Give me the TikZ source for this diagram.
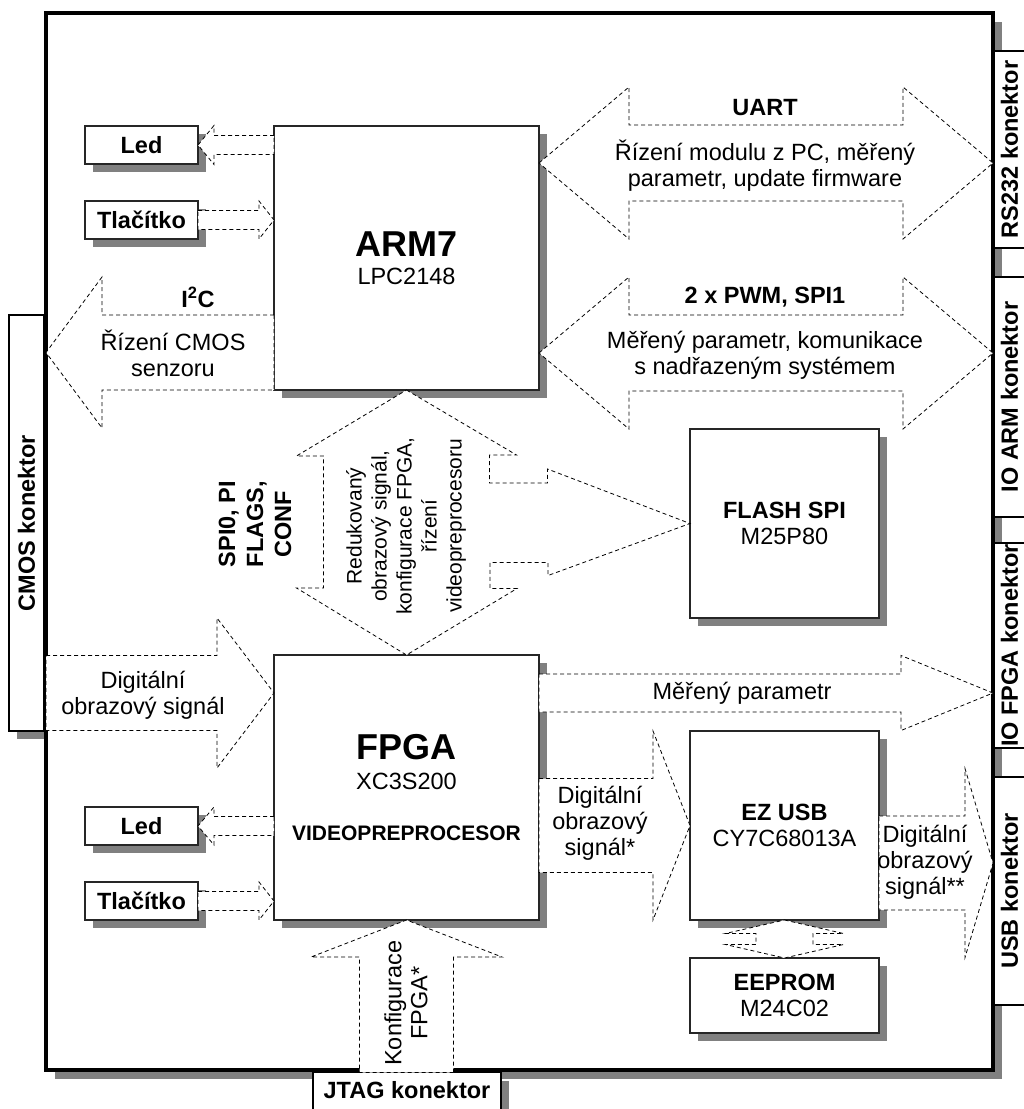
\documentclass[tikz,border=0pt]{standalone}
\usepackage{fontspec}
\setmainfont{Liberation Sans}
\usetikzlibrary{calc}

\newcommand\labelstyle{\fontsize{23.5}{26}\selectfont}
\newcommand\namestyle{\fontsize{23.5}{28}\selectfont\bfseries}
\newcommand\titlestyle{\fontsize{36}{40}\selectfont\bfseries}
\newcommand\videostyle{\fontsize{21}{25}\selectfont\bfseries}
\newcommand\busstyle{\fontsize{21}{25}\selectfont}
\newcommand\shadowoffset{8}

% name, x, y, width, height, text
\newcommand\chipbox[6]{
  \fill[dropgray] (#2 - #4 / 2 + \shadowoffset, #3 - #5 / 2 + \shadowoffset) rectangle ++(#4, #5) ;
  \node[chip, minimum width=#4pt, minimum height=#5pt] (#1) at (#2, #3) {#6} ;
}
% tail, tip, shaft half width, head half width, head length
\newcommand\harrow[5]{
  \draw[pipe] let \p1 = #1, \p2 = #2, \n1 = {ifthenelse(\x2 > \x1, #5, -#5)} in
    (\x1, \y2 + #3pt) -- (\x2 - \n1, \y2 + #3pt) -- (\x2 - \n1, \y2 + #4pt) -- (\p2)
    -- (\x2 - \n1, \y2 - #4pt) -- (\x2 - \n1, \y2 - #3pt) -- (\x1, \y2 - #3pt) -- cycle ;
}
\newcommand\varrow[5]{
  \draw[pipe] let \p1 = #1, \p2 = #2, \n1 = {ifthenelse(\y2 > \y1, #5, -#5)} in
    (\x2 + #3pt, \y1) -- (\x2 + #3pt, \y2 - \n1) -- (\x2 + #4pt, \y2 - \n1) -- (\p2)
    -- (\x2 - #4pt, \y2 - \n1) -- (\x2 - #3pt, \y2 - \n1) -- (\x2 - #3pt, \y1) -- cycle ;
}
\newcommand\hdarrow[5]{
  \draw[pipe] let \p1 = #1, \p2 = #2, \n1 = {ifthenelse(\x2 > \x1, #5, -#5)} in
    (\p1) -- (\x1 + \n1, \y1 + #4pt) -- (\x1 + \n1, \y1 + #3pt) -- (\x2 - \n1, \y1 + #3pt)
    -- (\x2 - \n1, \y1 + #4pt) -- (\p2) -- (\x2 - \n1, \y1 - #4pt) -- (\x2 - \n1, \y1 - #3pt)
    -- (\x1 + \n1, \y1 - #3pt) -- (\x1 + \n1, \y1 - #4pt) -- cycle ;
}
\newcommand\vdarrow[5]{
  \draw[pipe] let \p1 = #1, \p2 = #2, \n1 = {ifthenelse(\y2 > \y1, #5, -#5)} in
    (\p1) -- (\x1 + #4pt, \y1 + \n1) -- (\x1 + #3pt, \y1 + \n1) -- (\x1 + #3pt, \y2 - \n1)
    -- (\x1 + #4pt, \y2 - \n1) -- (\p2) -- (\x1 - #4pt, \y2 - \n1) -- (\x1 - #3pt, \y2 - \n1)
    -- (\x1 - #3pt, \y1 + \n1) -- (\x1 - #4pt, \y1 + \n1) -- cycle ;
}

\tikzset{
  dropgray/.style={fill=black!50},
  board/.style={draw=black, line width=3.5pt, fill=white, inner sep=0pt, outer sep=0pt},
  plug/.style={draw=black, line width=1.2pt, fill=white, inner sep=0pt, outer sep=0pt, font=\namestyle},
  chip/.style={draw=black!85, line width=1.2pt, fill=white, inner sep=0pt, outer sep=0pt, align=center,
    font=\labelstyle},
  pipe/.style={draw=black, line width=0.8pt, dash pattern=on 4pt off 3pt, fill=white},
  tag/.style={align=center, inner sep=0pt, font=\labelstyle}
}

\begin{document}
\begin{tikzpicture}[x=1pt, y=-1pt]
    \useasboundingbox (0, 0) rectangle (1024, 1109) ;
    \fill[white] (0, 0) rectangle (1024, 1109) ;
    \clip (0, 0) rectangle (1024, 1109) ;
    % konektory
    \fill[dropgray] (9 + 8, 315 + 8) rectangle (44 + 8, 731 + 8) ;
    \node[plug, rotate=90, minimum width=416pt, minimum height=35pt] (cmos) at (26.5, 523) {CMOS konektor} ;
    \fill[dropgray] (46 + 9, 13 + 9) rectangle (993 + 9, 1070 + 9) ;
    \node[board, minimum width=947pt, minimum height=1057pt] (board) at (519.5, 541.5) {} ;
    \node[plug, rotate=90, minimum width=197pt, minimum height=31pt] (rs232) at (1009.5, 149.5) {RS232 konektor} ;
    \node[plug, rotate=90, minimum width=240pt, minimum height=31pt] (ioarm) at (1009.5, 397) {IO ARM konektor} ;
    \node[plug, rotate=90, minimum width=205pt, minimum height=31pt] (iofpga) at (1009.5, 645.5) {IO FPGA konektor} ;
    \node[plug, rotate=90, minimum width=228pt, minimum height=31pt] (usb) at (1009.5, 891) {USB konektor} ;
    \fill[dropgray] (313 + 8, 1072.5 + 8) rectangle (501 + 8, 1140) ;
    \node[plug, anchor=north, minimum width=188pt, text height=26pt, text depth=40pt] (jtag) at (407, 1072.5) {JTAG konektor} ;
    % bloky
    \chipbox{arm}{406.5}{258}{265}{264}{\titlestyle ARM7\\[2pt]\labelstyle LPC2148}
    \chipbox{fpga}{406.5}{787.5}{265}{265}{\titlestyle FPGA\\[4.5pt]\labelstyle XC3S200\\[25pt]\videostyle VIDEOPREPROCESOR}
    \chipbox{flash}{784.5}{523.5}{189}{189}{\namestyle FLASH SPI\\\labelstyle M25P80}
    \chipbox{ezusb}{784.5}{825.5}{189}{189}{\namestyle EZ USB\\\labelstyle CY7C68013A}
    \chipbox{eeprom}{784.5}{995.5}{189}{75}{\namestyle EEPROM\\\labelstyle M24C02}
    \chipbox{led1}{141.5}{145}{113}{38}{\namestyle Led}
    \chipbox{tlac1}{141.5}{220}{113}{38}{\namestyle Tlačítko}
    \chipbox{led2}{141.5}{826}{113}{38}{\namestyle Led}
    \chipbox{tlac2}{141.5}{901}{113}{38}{\namestyle Tlačítko}
    % sbernice
    \coordinate (uart) at ($(arm.north east) + (0, 37)$) ;
    \coordinate (pwm) at ($(arm.south east) + (0, -37)$) ;
    \coordinate (i2c) at ($(arm.south west) + (0, -37.5)$) ;
    \coordinate (pix) at ($(fpga.north west) + (0, 38)$) ;
    \coordinate (usbout) at ($(ezusb.east) + (0, 37.5)$) ;
    \harrow{(arm.west |- led1.east)}{(led1.east)}{9.5}{19.5}{16}
    \harrow{(tlac1.east)}{(arm.west |- tlac1.east)}{9.5}{19}{15}
    \harrow{(i2c)}{(board.west |- i2c)}{37.5}{75.5}{56}
    \hdarrow{(uart)}{(board.east |- uart)}{38}{76}{90}
    \hdarrow{(pwm)}{(board.east |- pwm)}{38}{76}{90}
    \draw[pipe] (arm.south) -- ++(110, 65) -- ++(-27, 0) -- ++(0, 28) -- ++(58, 0) -- ++(0, -14) -- (flash.west)
      -- ++(-142, 52) -- ++(0, -13) -- ++(-58, 0) -- ++(0, 26) -- ++(27, 0) -- (fpga.north)
      -- ++(-110, -67) -- ++(27, 0) -- ++(0, -132) -- ++(-27, 0) -- cycle ;
    \harrow{(board.west |- pix)}{(pix)}{37.5}{75}{57}
    \harrow{(fpga.east |- pix)}{(board.east |- pix)}{19}{37.5}{92}
    \harrow{(fpga.east |- ezusb.west)}{(ezusb.west)}{47}{94.5}{37}
    \harrow{(usbout)}{(board.east |- usbout)}{47}{94.5}{28}
    \vdarrow{(ezusb.south)}{(eeprom.north)}{28.5}{59}{13.5}
    \harrow{(fpga.west |- led2.east)}{(led2.east)}{9.5}{19}{16}
    \harrow{(tlac2.east)}{(fpga.west |- tlac2.east)}{9.5}{19}{15}
    \varrow{(jtag.north)}{(fpga.south)}{47}{95.5}{37}
    % popisky
    \node[tag, font=\namestyle] (uartname) at (765, 108) {UART} ;
    \node[tag] (uarttext) at (765, 166) {Řízení modulu z PC, měřený\\parametr, update firmware} ;
    \node[tag, font=\namestyle] (pwmname) at (765, 297) {2 x PWM, SPI1} ;
    \node[tag] (pwmtext) at (765, 355) {Měřený parametr, komunikace\\s nadřazeným systémem} ;
    \node[tag, font=\namestyle] (i2cname) at (198, 297) {I\textsuperscript{2}C} ;
    \node[tag] (i2ctext) at (173, 353) {Řízení CMOS\\senzoru} ;
    \node[tag, font=\namestyle, rotate=90] (spiname) at (255, 524) {SPI0, PI\\FLAGS,\\CONF} ;
    \node[tag, font=\busstyle, rotate=90] (bustext) at (406, 526) {Redukovaný\\obrazový signál,\\konfigurace FPGA,\\řízení\\videopreprocesoru} ;
    \node[tag] (pixtext) at (143, 695) {Digitální\\obrazový signál} ;
    \node[tag] (meastext) at (742, 693) {Měřený parametr} ;
    \node[tag] (sigtext) at (600, 823) {Digitální\\obrazový\\signál*} ;
    \node[tag] (usbtext) at (925, 862) {Digitální\\obrazový\\signál**} ;
    \node[tag, rotate=90] (jtagtext) at (406, 1003) {Konfigurace\\FPGA*} ;
\end{tikzpicture}
\end{document}
